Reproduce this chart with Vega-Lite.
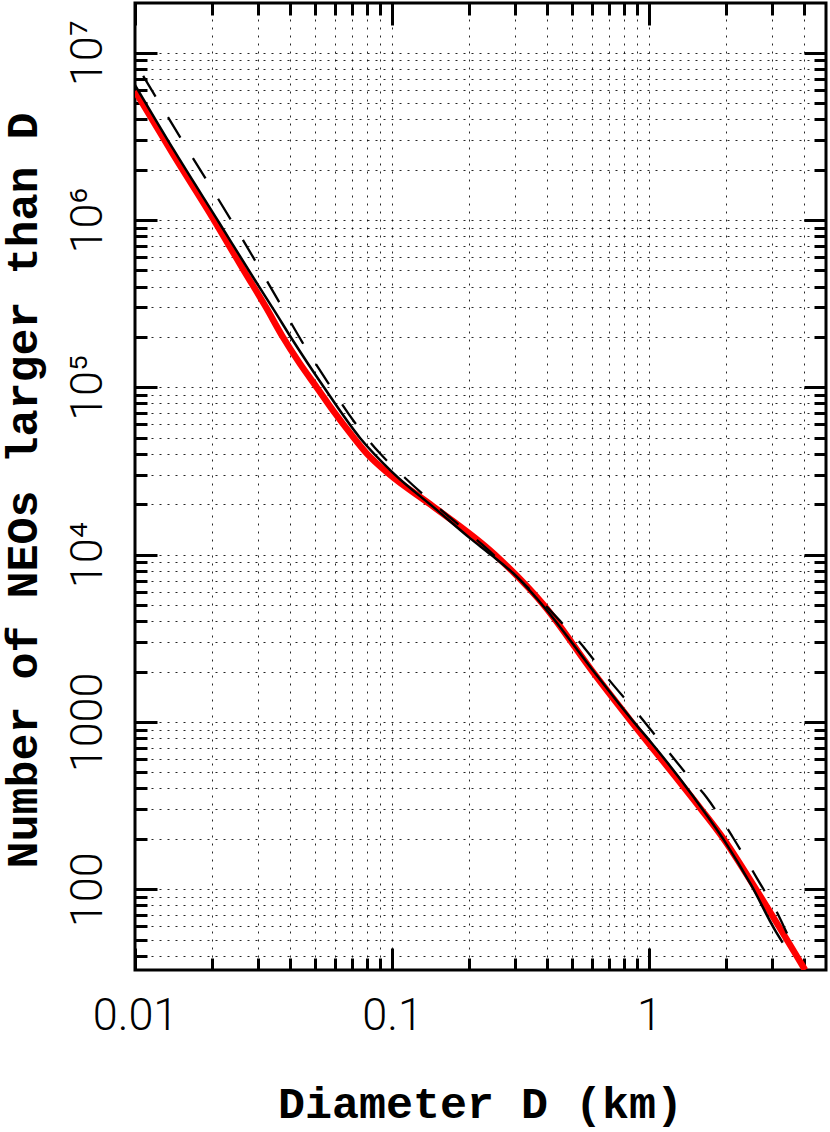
{
  "$schema": "https://vega.github.io/schema/vega-lite/v6.json",
  "width": 691,
  "height": 967,
  "autosize": "none",
  "padding": {"left": 135, "top": 3, "right": 4, "bottom": 162},
  "background": "white",
  "datasets": {
    "red": [
      {"D": 0.01, "N": 5900000},
      {"D": 0.01413, "N": 2440000},
      {"D": 0.02028, "N": 1000000},
      {"D": 0.02649, "N": 500000},
      {"D": 0.03236, "N": 300000},
      {"D": 0.03758, "N": 200000},
      {"D": 0.04365, "N": 139600},
      {"D": 0.05093, "N": 100000},
      {"D": 0.05998, "N": 70000},
      {"D": 0.06918, "N": 52500},
      {"D": 0.07998, "N": 40000},
      {"D": 0.09817, "N": 30000},
      {"D": 0.1406, "N": 20000},
      {"D": 0.2512, "N": 10000},
      {"D": 0.389, "N": 5000},
      {"D": 0.6026, "N": 2000},
      {"D": 0.8551, "N": 1000},
      {"D": 1.227, "N": 500},
      {"D": 1.596, "N": 300},
      {"D": 1.95, "N": 200},
      {"D": 2.606, "N": 100},
      {"D": 4.046, "N": 32.9}
    ],
    "solid": [
      {"D": 0.01, "N": 6410000},
      {"D": 0.01413, "N": 2630000},
      {"D": 0.02123, "N": 966000},
      {"D": 0.02877, "N": 456000},
      {"D": 0.03508, "N": 282000},
      {"D": 0.04074, "N": 195000},
      {"D": 0.05433, "N": 100000},
      {"D": 0.07508, "N": 49800},
      {"D": 0.1009, "N": 30800},
      {"D": 0.1493, "N": 18500},
      {"D": 0.2014, "N": 12500},
      {"D": 0.2421, "N": 10000},
      {"D": 0.2958, "N": 7740},
      {"D": 0.3846, "N": 5000},
      {"D": 0.6095, "N": 2000},
      {"D": 0.871, "N": 1000},
      {"D": 1.015, "N": 759},
      {"D": 1.496, "N": 353},
      {"D": 1.968, "N": 194},
      {"D": 2.495, "N": 106},
      {"D": 3.09, "N": 57},
      {"D": 3.311, "N": 47.9}
    ],
    "dashed": [
      {"D": 0.01076, "N": 7260000},
      {"D": 0.01585, "N": 2710000},
      {"D": 0.02363, "N": 1000000},
      {"D": 0.02877, "N": 601000},
      {"D": 0.03597, "N": 333000},
      {"D": 0.04467, "N": 187000},
      {"D": 0.05623, "N": 107000},
      {"D": 0.07079, "N": 63100},
      {"D": 0.08913, "N": 40700},
      {"D": 0.1122, "N": 28800},
      {"D": 0.1413, "N": 20900},
      {"D": 0.1778, "N": 15500},
      {"D": 0.2239, "N": 11500},
      {"D": 0.2818, "N": 8320},
      {"D": 0.3548, "N": 5890},
      {"D": 0.4467, "N": 4070},
      {"D": 0.5623, "N": 2750},
      {"D": 0.7079, "N": 1740},
      {"D": 0.8913, "N": 1150},
      {"D": 1.122, "N": 741},
      {"D": 1.413, "N": 479},
      {"D": 1.667, "N": 357},
      {"D": 2.123, "N": 203},
      {"D": 2.63, "N": 116},
      {"D": 3.236, "N": 66.7},
      {"D": 3.443, "N": 54.3}
    ]
  },
  "layer": [
    {
      "data": {"name": "red"},
      "mark": {"type": "line", "color": "#ff0000", "strokeWidth": 6.5, "interpolate": "monotone", "clip": true},
      "encoding": {
        "x": {
          "field": "D", "type": "quantitative",
          "scale": {"type": "log", "domain": [0.01, 4.88], "nice": false},
          "axis": {
            "orient": "bottom",
            "values": [0.01,0.02,0.03,0.04,0.05,0.06,0.07,0.08,0.09,0.1,0.2,0.3,0.4,0.5,0.6,0.7,0.8,0.9,1,2,3,4],
            "tickSize": {"condition": {"test": "datum.value == 0.01 || datum.value == 0.1 || datum.value == 1", "value": -22}, "value": -12},
            "labelExpr": "datum.value == 0.01 ? '0.01' : datum.value == 0.1 ? '0.1' : datum.value == 1 ? '1' : ''",
            "labelPadding": 81,
            "labelBaseline": "alphabetic",
            "title": "Diameter D (km)",
            "titleX": 345,
            "titleY": 147,
            "titleBaseline": "alphabetic",
            "titleAlign": "center"
          }
        },
        "y": {
          "field": "N", "type": "quantitative",
          "scale": {"type": "log", "domain": [32.9, 19800000], "nice": false},
          "axis": {
            "orient": "left",
            "values": [40,50,60,70,80,90,100,200,300,400,500,600,700,800,900,1000,2000,3000,4000,5000,6000,7000,8000,9000,10000,20000,30000,40000,50000,60000,70000,80000,90000,100000,200000,300000,400000,500000,600000,700000,800000,900000,1000000,2000000,3000000,4000000,5000000,6000000,7000000,8000000,9000000,10000000],
            "tickSize": {"condition": {"test": "indexof([100,1000,10000,100000,1000000,10000000], datum.value) >= 0", "value": -22}, "value": -12},
            "labelExpr": "datum.value == 100 ? '100' : datum.value == 1000 ? '1000' : datum.value == 10000 ? '10⁴' : datum.value == 100000 ? '10⁵' : datum.value == 1000000 ? '10⁶' : datum.value == 10000000 ? '10⁷' : ''",
            "labelAngle": -90,
            "labelAlign": "center",
            "labelBaseline": "alphabetic",
            "labelPadding": 56,
            "title": "Number of NEOs larger than D",
            "titleAngle": -90,
            "titleX": -99,
            "titleY": 487,
            "titleAlign": "center",
            "titleBaseline": "alphabetic"
          }
        }
      }
    },
    {
      "data": {"name": "solid"},
      "mark": {"type": "line", "color": "#000000", "strokeWidth": 2.5, "interpolate": "monotone", "clip": true},
      "encoding": {
        "x": {
          "field": "D", "type": "quantitative",
          "axis": {
            "orient": "top",
            "values": [0.01,0.02,0.03,0.04,0.05,0.06,0.07,0.08,0.09,0.1,0.2,0.3,0.4,0.5,0.6,0.7,0.8,0.9,1,2,3,4],
            "tickSize": {"condition": {"test": "datum.value == 0.01 || datum.value == 0.1 || datum.value == 1", "value": -22}, "value": -12},
            "labels": false,
            "grid": false,
            "title": null
          }
        },
        "y": {
          "field": "N", "type": "quantitative",
          "axis": {
            "orient": "right",
            "values": [40,50,60,70,80,90,100,200,300,400,500,600,700,800,900,1000,2000,3000,4000,5000,6000,7000,8000,9000,10000,20000,30000,40000,50000,60000,70000,80000,90000,100000,200000,300000,400000,500000,600000,700000,800000,900000,1000000,2000000,3000000,4000000,5000000,6000000,7000000,8000000,9000000,10000000],
            "tickSize": {"condition": {"test": "indexof([100,1000,10000,100000,1000000,10000000], datum.value) >= 0", "value": -22}, "value": -12},
            "labels": false,
            "grid": false,
            "title": null
          }
        }
      }
    },
    {
      "data": {"name": "dashed"},
      "mark": {"type": "line", "color": "#000000", "strokeWidth": 2.3, "strokeDash": [24, 24], "interpolate": "monotone", "clip": true},
      "encoding": {
        "x": {"field": "D", "type": "quantitative", "axis": null},
        "y": {"field": "N", "type": "quantitative", "axis": null}
      }
    }
  ],
  "resolve": {"axis": {"x": "independent", "y": "independent"}},
  "config": {
    "view": {"stroke": "#000000", "strokeWidth": 3},
    "axis": {
      "domain": false,
      "ticks": true,
      "tickColor": "#000000",
      "tickWidth": 3,
      "grid": true,
      "gridColor": "#000000",
      "gridDash": [2, 6],
      "gridWidth": 1,
      "gridOpacity": 0.85,
      "labelFont": "Roboto",
      "labelFontWeight": 300,
      "labelFontSize": 45,
      "labelColor": "#000000",
      "labelOverlap": false,
      "labelBound": false,
      "labelFlush": false,
      "titleFont": "Liberation Mono",
      "titleFontSize": 45,
      "titleFontWeight": "bold",
      "titleColor": "#000000"
    }
  }
}
